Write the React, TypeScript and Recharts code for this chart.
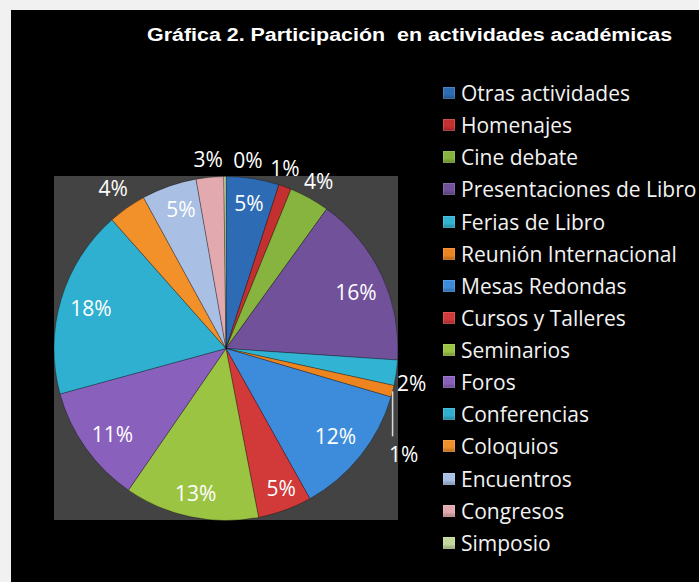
import React from "react";
import { PieChart, Pie, Cell, Legend } from "recharts";

const categories = [
  "Otras actividades",
  "Homenajes",
  "Cine debate",
  "Presentaciones de Libro",
  "Ferias de Libro",
  "Reunión Internacional",
  "Mesas Redondas",
  "Cursos y Talleres",
  "Seminarios",
  "Foros",
  "Conferencias",
  "Coloquios",
  "Encuentros",
  "Congresos",
  "Simposio",
];

// participación (%)
const shares = [5, 1.2, 3.8, 16.2, 2.4, 1.1, 12.4, 5.1, 12.7, 11.2, 17.8, 3.6, 5.2, 2.6, 0.2];

const colors = [
  "#2d6cb4",
  "#c4302f",
  "#86b43e",
  "#71519a",
  "#31b3d3",
  "#ee8420",
  "#3d8cdc",
  "#d13a39",
  "#9cc443",
  "#8a60bd",
  "#2fb0d0",
  "#f2902a",
  "#a9bfe4",
  "#e2aaae",
  "#c3d89c",
];

const data = categories.map((name, i) => ({ name, value: shares[i] }));

// label placement: distance from centre, and angle nudge for crowded labels
const labelRadius = [147, 190, 191, 142, 189, 0, 140, 150, 148, 142, 141, 196, 147, 190, 190];
const labelAngleShift = [0, 2, 0, -1.5, -2.5, 0, 0, 1.5, 0, 1.5, 0, 0, -1.5, 0, -7];

const RAD = Math.PI / 180;
const FONT = "'Open Sans', Lato, sans-serif";

const renderLabel = (props: any) => {
  const { cx, cy, midAngle, outerRadius, percent, index } = props;
  const text = `${Math.round(percent * 100)}%`;
  if (index === 5) {
    // leader line for "Reunión Internacional"
    const ex = cx + outerRadius * Math.cos(-midAngle * RAD);
    const ey = cy + outerRadius * Math.sin(-midAngle * RAD);
    return (
      <g>
        <line x1={ex} y1={ey} x2={ex} y2={ey + 45} stroke="#d9d9d9" strokeWidth={1.5} />
        <text x={ex + 11} y={ey + 63} fill="#fff" fontSize={21} fontFamily={FONT} textAnchor="middle" dominantBaseline="central">
          {text}
        </text>
      </g>
    );
  }
  const a = (midAngle + labelAngleShift[index]) * RAD;
  const r = labelRadius[index];
  const x = cx + r * Math.cos(-a);
  const y = cy + r * Math.sin(-a);
  return (
    <text x={x} y={y} fill="#fff" fontSize={21} fontFamily={FONT} textAnchor="middle" dominantBaseline="central">
      {text}
    </text>
  );
};

const renderLegend = () => (
  <div style={{ fontFamily: FONT, fontSize: 21, color: "#f2f2f2" }}>
    {categories.map((name, i) => (
      <div key={name} style={{ height: 32.14, display: "flex", alignItems: "center", whiteSpace: "nowrap" }}>
        <span
          style={{
            display: "inline-block",
            width: 12,
            height: 12,
            marginRight: 6,
            background: `linear-gradient(180deg, ${colors[i]} 0%, ${colors[i]} 60%, rgba(0,0,0,0.25) 100%), ${colors[i]}`,
            boxShadow: "inset 0 0 0 1px rgba(255,255,255,0.15)",
          }}
        />
        {name}
      </div>
    ))}
  </div>
);

export default function App() {
  return (
    <div style={{ position: "absolute", left: 0, top: 0, width: 699, height: 582, background: "#f1f1f1", overflow: "hidden" }}>
      <div style={{ position: "absolute", left: 11, top: 10, width: 688, height: 572, background: "#000" }}>
        <div
          style={{
            position: "absolute",
            left: 136,
            top: 15,
            color: "#fff",
            fontFamily: "'Liberation Sans', Arial, sans-serif",
            fontWeight: "bold",
            fontSize: 18,
            whiteSpace: "pre",
            transform: "scaleX(1.19)",
            transformOrigin: "left center",
          }}
        >
          {"Gráfica 2. Participación  en actividades académicas"}
        </div>
        <div style={{ position: "absolute", left: 43, top: 166, width: 344, height: 344, background: "#434343" }} />
        <div style={{ position: "absolute", left: 0, top: 0 }}>
          <PieChart width={688} height={572} margin={{ top: 0, right: 0, bottom: 0, left: 0 }}>
            <Pie
              data={data}
              dataKey="value"
              nameKey="name"
              cx={215}
              cy={338.5}
              outerRadius={172}
              startAngle={90}
              endAngle={-270}
              stroke="rgba(0,0,0,0.3)"
              strokeWidth={1}
              label={renderLabel}
              labelLine={false}
              isAnimationActive={false}
            >
              {data.map((d, i) => (
                <Cell key={d.name} fill={colors[i]} />
              ))}
            </Pie>
            <Legend
              layout="vertical"
              content={renderLegend}
              wrapperStyle={{ position: "absolute", left: 432, top: 67, width: 256 }}
            />
          </PieChart>
        </div>
      </div>
    </div>
  );
}
